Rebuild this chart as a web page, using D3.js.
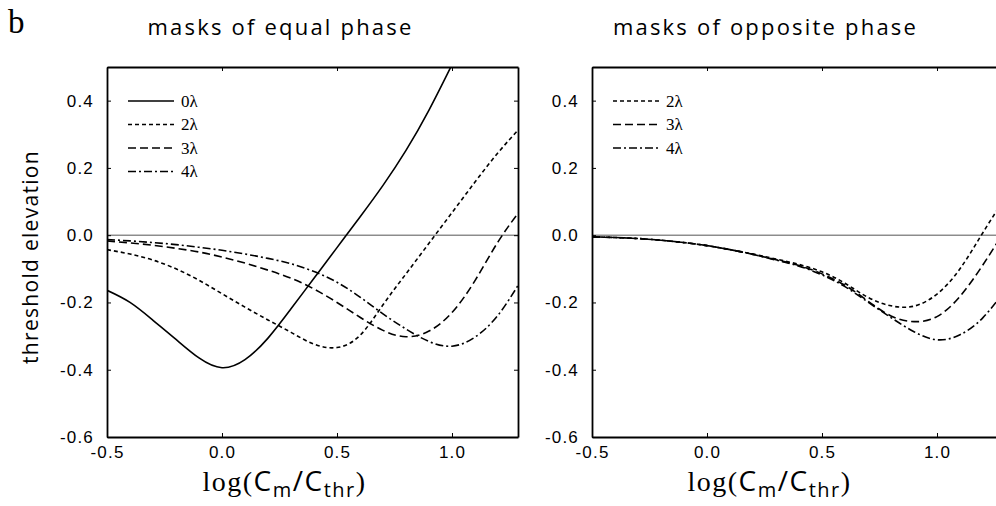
<!DOCTYPE html>
<html>
<head>
<meta charset="utf-8">
<script src="https://cdn.jsdelivr.net/npm/d3@7/dist/d3.min.js"></script>
<style>
  body { margin: 0; background: #fff; }
  text { fill: #000; }
</style>
</head>
<body>
<svg id="fig"></svg>
<script>
// values, x = log(Cm/Cthr)
var xGrid = [-0.5, -0.4, -0.3, -0.2, -0.1, 0.0, 0.1, 0.2, 0.3, 0.4, 0.5, 0.6, 0.7, 0.8, 0.9, 1.0, 1.1, 1.2, 1.3];
var xTicks = [-0.5, 0.0, 0.5, 1.0];
var yTicks = [-0.6, -0.4, -0.2, 0.0, 0.2, 0.4];

// masks of equal phase
var equal0 = [-0.164, -0.200, -0.253, -0.310, -0.365, -0.394, -0.370, -0.306, -0.219, -0.128, -0.037, 0.054, 0.148, 0.252, 0.372, 0.507];
var equal2 = [-0.043, -0.056, -0.074, -0.100, -0.134, -0.174, -0.214, -0.252, -0.289, -0.324, -0.334, -0.298, -0.207, -0.115, -0.024, 0.067, 0.158, 0.245, 0.322];
var equal3 = [-0.017, -0.023, -0.030, -0.039, -0.050, -0.065, -0.083, -0.104, -0.128, -0.160, -0.200, -0.244, -0.283, -0.302, -0.285, -0.230, -0.135, -0.020, 0.077];
var equal4 = [-0.013, -0.017, -0.022, -0.028, -0.036, -0.045, -0.056, -0.069, -0.085, -0.108, -0.140, -0.184, -0.234, -0.279, -0.316, -0.330, -0.303, -0.238, -0.135];

// masks of opposite phase
var opp2 = [-0.005, -0.007, -0.010, -0.015, -0.022, -0.031, -0.043, -0.056, -0.071, -0.087, -0.109, -0.143, -0.185, -0.210, -0.211, -0.175, -0.100, 0.008, 0.115];
var opp3 = [-0.005, -0.007, -0.010, -0.015, -0.022, -0.031, -0.043, -0.057, -0.073, -0.090, -0.115, -0.149, -0.196, -0.240, -0.257, -0.242, -0.182, -0.088, 0.020];
var opp4 = [-0.005, -0.007, -0.010, -0.015, -0.022, -0.031, -0.043, -0.057, -0.074, -0.092, -0.118, -0.153, -0.199, -0.245, -0.287, -0.311, -0.296, -0.245, -0.160];

var equalLabels = ["0\u03bb", "2\u03bb", "3\u03bb", "4\u03bb"];
var oppLabels = ["2\u03bb", "3\u03bb", "4\u03bb"];

var width = 996;
var height = 506;
var top_ = 67;
var bottom = 437;
var panelW = 411;

// line styles per spacing (0, 2, 3, 4 lambda)
var dashes = { "0\u03bb": null, "2\u03bb": "4,3", "3\u03bb": "8,4", "4\u03bb": "8,3,2,3" };

var svg = d3.select("#fig")
    .attr("width", width)
    .attr("height", height);

var yScale = d3.scaleLinear()
                .domain([-0.6, 0.5])
                .range([bottom, top_]);

var line = d3.line()
              .x(d => d[0])
              .y(d => d[1])
              .curve(d3.curveNatural);

svg.append("text")
    .attr("x", 8)
    .attr("y", 33)
    .style("font-family", "'Liberation Serif', serif")
    .style("font-size", "33px")
    .text("b");

svg.append("text")
    .attr("transform", "translate(38,257) rotate(-90)")
    .style("text-anchor", "middle")
    .style("font-family", "'Open Sans', sans-serif")
    .style("font-size", "21px")
    .style("letter-spacing", "1.3px")
    .text("threshold elevation");

makePanel(107, "masks of equal phase", [equal0, equal2, equal3, equal4], equalLabels, "clipA", 128);
makePanel(592, "masks of opposite phase", [opp2, opp3, opp4], oppLabels, "clipB", 613);

function makePanel(left, title, series, labels, clipId, legendX){
  var xScale = d3.scaleLinear()
                  .domain([-0.5, 1.287])
                  .range([left, left + panelW]);

  var g = svg.append("g");

  g.append("clipPath")
      .attr("id", clipId)
    .append("rect")
      .attr("x", left)
      .attr("y", top_)
      .attr("width", panelW)
      .attr("height", bottom - top_);

  // zero reference
  g.append("line")
      .attr("x1", left)
      .attr("x2", left + panelW)
      .attr("y1", yScale(0))
      .attr("y2", yScale(0))
      .attr("stroke", "#555")
      .attr("stroke-width", 1);

  series.forEach(function(vals, i){
    var pts = vals.map((v, j) => [xScale(xGrid[j]), yScale(v)]);
    g.append("path")
        .attr("d", line(pts))
        .attr("clip-path", "url(#" + clipId + ")")
        .attr("fill", "none")
        .attr("stroke", "#000")
        .attr("stroke-width", 1.6)
        .attr("stroke-dasharray", dashes[labels[i]]);
  });

  var fmt = d => d.toFixed(1);

  var axes = [
    [d3.axisBottom(xScale).tickValues(xTicks).tickFormat(fmt).tickPadding(9), "translate(0," + bottom + ")"],
    [d3.axisTop(xScale).tickValues(xTicks).tickFormat(""), "translate(0," + top_ + ")"],
    [d3.axisLeft(yScale).tickValues(yTicks).tickFormat(fmt).tickPadding(13), "translate(" + left + ",0)"],
    [d3.axisRight(yScale).tickValues(yTicks).tickFormat(""), "translate(" + (left + panelW) + ",0)"]
  ];
  axes.forEach(function(a){
    var ax = g.append("g")
        .attr("transform", a[1])
        .call(a[0].tickSize(-4).tickSizeOuter(0));
    ax.select(".domain").attr("stroke-width", 1.8);
    ax.selectAll(".tick line").attr("stroke-width", 1);
    ax.selectAll("text")
        .style("font-family", "'Liberation Sans', Arial, sans-serif")
        .style("font-size", "17px")
        .style("letter-spacing", "1.2px");
  });

  // legend
  labels.forEach(function(lab, i){
    var y = 101 + i * 23.5;
    g.append("line")
        .attr("x1", legendX)
        .attr("x2", legendX + 46)
        .attr("y1", y)
        .attr("y2", y)
        .attr("stroke", "#000")
        .attr("stroke-width", 1.3)
        .attr("stroke-dasharray", dashes[lab]);
    g.append("text")
        .attr("x", legendX + 53)
        .attr("y", y)
        .attr("dy", "0.35em")
        .style("font-family", "'Liberation Serif', serif")
        .style("font-size", "17px")
        .text(lab);
  });

  var cx = (left + left + panelW) / 2;

  g.append("text")
      .attr("x", cx - 32)
      .attr("y", 35)
      .style("text-anchor", "middle")
      .style("font-family", "'Open Sans', sans-serif")
      .style("font-size", "22px")
      .style("letter-spacing", "2.2px")
      .text(title);

  // axis title log(Cm/Cthr)
  var t = g.append("text")
      .attr("x", cx - 28)
      .attr("y", 491)
      .style("text-anchor", "middle")
      .style("font-size", "28px")
      .style("letter-spacing", "1.5px");
  t.append("tspan").style("font-family", "'Liberation Serif', serif").text("log(");
  t.append("tspan").style("font-family", "'Open Sans', sans-serif").text("C");
  t.append("tspan").style("font-family", "'Open Sans', sans-serif").style("font-size", "20px").attr("dy", 6).text("m");
  t.append("tspan").style("font-family", "'Open Sans', sans-serif").attr("dy", -6).text("/C");
  t.append("tspan").style("font-family", "'Open Sans', sans-serif").style("font-size", "20px").attr("dy", 6).text("thr");
  t.append("tspan").style("font-family", "'Liberation Serif', serif").attr("dy", -6).text(")");
}
</script>
</body>
</html>
